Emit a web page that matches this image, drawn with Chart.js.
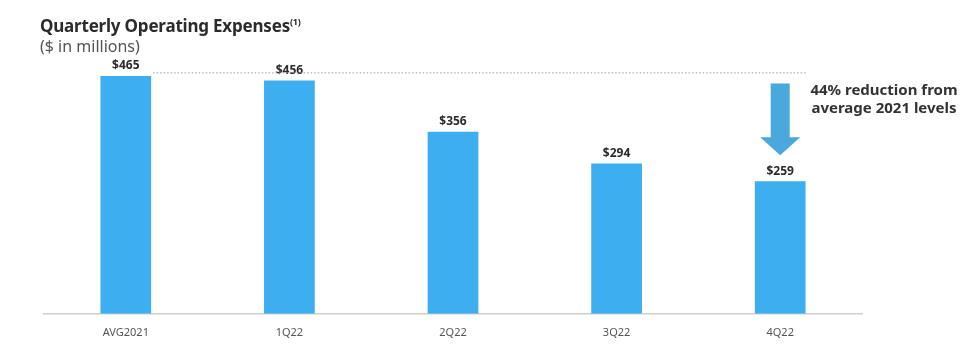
<!DOCTYPE html>
<html>
<head>
<meta charset="utf-8">
<script src="https://cdn.jsdelivr.net/npm/chart.js@4"></script>
<style>
  html, body { margin: 0; padding: 0; background: #fff; }
  #wrap { position: relative; width: 980px; height: 360px; }
  #title { position: absolute; left: 40px; top: 14px; font: bold 17px 'Noto Sans', sans-serif; color: #2b2b2b; letter-spacing: -0.2px; }
  #title sup { font-size: 9px; }
  #sub { position: absolute; left: 40px; top: 35px; font: 16px 'Noto Sans', sans-serif; color: #555; }
  #note { position: absolute; left: 800px; top: 80px; width: 168px; text-align: center; font: bold 15px 'Noto Sans', sans-serif; color: #333; line-height: 18px; }
</style>
</head>
<body>
<div id="wrap">
  <canvas id="c" width="980" height="360"></canvas>
  <div id="title">Quarterly Operating Expenses<sup>(1)</sup></div>
  <div id="sub">($ in millions)</div>
  <div id="note">44% reduction from<br>average 2021 levels</div>
</div>
<script>
const categories = ['AVG2021', '1Q22', '2Q22', '3Q22', '4Q22'];
const opex = [465, 456, 356, 294, 259];
const arrowFrom = 450;
const arrowTo = 310;

const BAR = '#3daeef';

const extras = {
  id: 'extras',
  afterDatasetsDraw(chart) {
    const { ctx, scales: { y } } = chart;
    const meta = chart.getDatasetMeta(0);
    ctx.save();
    // value labels
    ctx.fillStyle = '#2b2b2b';
    ctx.font = 'bold 12px "Noto Sans", sans-serif';
    ctx.textAlign = 'center';
    ctx.textBaseline = 'bottom';
    meta.data.forEach((bar, i) => {
      ctx.fillText('$' + opex[i], bar.x, bar.y - 4);
    });
    // dotted reference line
    const first = meta.data[0], last = meta.data[meta.data.length - 1];
    const ly = y.getPixelForValue(opex[0]) - 3;
    ctx.strokeStyle = '#999';
    ctx.lineWidth = 1;
    ctx.setLineDash([1.5, 2]);
    ctx.beginPath();
    ctx.moveTo(first.x + first.width / 2 + 2, ly);
    ctx.lineTo(last.x + last.width / 2, ly);
    ctx.stroke();
    ctx.setLineDash([]);
    // arrow
    const ax = last.x;
    const y0 = y.getPixelForValue(arrowFrom);
    const y1 = y.getPixelForValue(arrowTo);
    const headH = 18;
    ctx.fillStyle = '#4aa8dc';
    ctx.beginPath();
    ctx.moveTo(ax - 9.5, y0);
    ctx.lineTo(ax + 9.5, y0);
    ctx.lineTo(ax + 9.5, y1 - headH);
    ctx.lineTo(ax + 20, y1 - headH);
    ctx.lineTo(ax, y1);
    ctx.lineTo(ax - 20, y1 - headH);
    ctx.lineTo(ax - 9.5, y1 - headH);
    ctx.closePath();
    ctx.fill();
    ctx.restore();
  }
};

new Chart(document.getElementById('c'), {
  type: 'bar',
  data: {
    labels: categories,
    datasets: [{
      data: opex,
      backgroundColor: BAR,
      barPercentage: 0.31,
      categoryPercentage: 1
    }]
  },
  options: {
    responsive: false,
    animation: false,
    layout: { padding: { top: 58, left: 44, right: 118, bottom: 17 } },
    plugins: { legend: { display: false }, tooltip: { enabled: false } },
    scales: {
      x: {
        grid: { display: false },
        border: { color: '#cfcfcf', width: 1.5 },
        ticks: { color: '#555', font: { size: 11, family: 'Noto Sans' }, padding: 4 }
      },
      y: { display: false, min: 0, max: 500 }
    }
  },
  plugins: [extras]
});
</script>
</body>
</html>
